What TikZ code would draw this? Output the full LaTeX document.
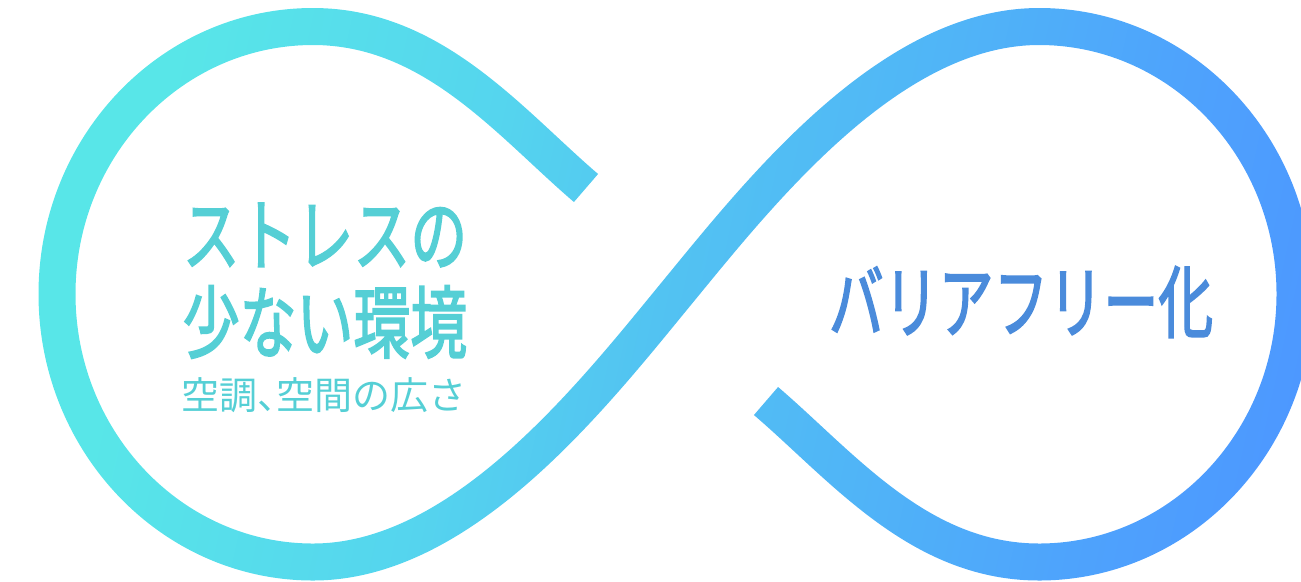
\documentclass[tikz,border=0pt]{standalone}
\usepackage{fontspec}
\usepackage{graphicx}
\usetikzlibrary{fadings}
\newfontfamily\jp{Noto Sans CJK JP}
\newfontfamily\jpmid[FakeBold=2.5]{Noto Sans CJK JP}
\definecolor{txtcyan}{HTML}{55CFD5}
\definecolor{txtblue}{HTML}{4A8BDB}
\definecolor{g0}{HTML}{5AE8E7}
\definecolor{g1}{HTML}{58E6E8}
\definecolor{g2}{HTML}{55D5EE}
\definecolor{g3}{HTML}{52C2F2}
\definecolor{g4}{HTML}{50B5F7}
\definecolor{g5}{HTML}{4EA3FC}
\definecolor{g6}{HTML}{4D98FF}
\pgfdeclarehorizontalshading{infshade}{100bp}{color(0bp)=(g0); color(28bp)=(g1); color(42bp)=(g2); color(51bp)=(g3); color(60bp)=(g4); color(70bp)=(g5); color(78bp)=(g6); color(100bp)=(g6)}
\begin{tikzfadingfrompicture}[name=inffade, x=1pt, y=-1pt]
  \useasboundingbox (0,0) rectangle (1301,581);
  \draw[line width=37pt, transparent!0]
    (586,188) .. controls (510,123) and (433,26.5) .. (313,26.5)
    .. controls (171.6,26.5) and (57,146.3) .. (57,294)
    .. controls (57,441.7) and (171.6,562) .. (313,562)
    .. controls (463,562) and (593.4,394.5) .. (676,294)
    .. controls (758.6,193.5) and (889,26.5) .. (1039,26.5)
    .. controls (1180.4,26.5) and (1295,146.3) .. (1295,294)
    .. controls (1295,441.7) and (1180.4,562) .. (1039,562)
    .. controls (919,562) and (842,466) .. (766,401);
\end{tikzfadingfrompicture}
\tikzset{
  bigtxt/.style={inner sep=0pt, font=\jpmid\fontsize{79pt}{79pt}\selectfont},
  subtxt/.style={inner sep=0pt, text=txtcyan, font=\jp\fontsize{38pt}{38pt}\selectfont}
}
\begin{document}
\begin{tikzpicture}[x=1pt, y=-1pt]
  \useasboundingbox (0,0) rectangle (1301,581);
  \shade[shading=infshade, shading angle=-12.4, path fading=inffade, fit fading=false,
         fading transform={xshift=650.5pt, yshift=-290.5pt}]
    (0,0) rectangle (1301,581);
  \node[bigtxt, text=txtcyan] (l1) at (325,235) {\scalebox{0.72}[1]{ストレスの}};
  \node[bigtxt, text=txtcyan] (l2) at (325,322) {\scalebox{0.72}[1]{少ない環境}};
  \node[subtxt] (l3) at (324,395) {空調、\kern-19pt 空間の広さ};
  \node[bigtxt, text=txtblue] (r1) at (1021,302) {\scalebox{0.695}[1]{バリアフリー化}};
\end{tikzpicture}
\end{document}
